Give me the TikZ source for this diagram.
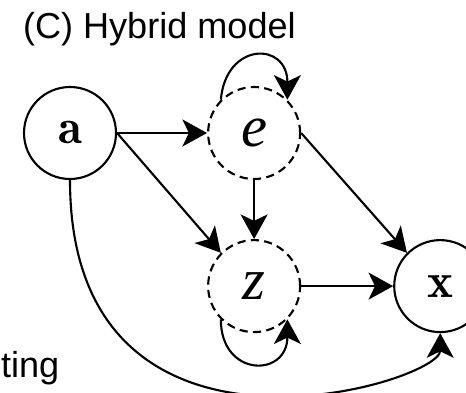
\RequirePackage{fix-cm}
\documentclass[tikz,border=0pt]{standalone}
\usepackage{fontspec}
\newfontfamily\arialfont{Liberation Sans}
\newfontfamily\timesfont{Liberation Serif}
\usetikzlibrary{positioning,arrows.meta}

\begin{document}
\begin{tikzpicture}[
  obs/.style = {
    draw,
    circle,
    minimum size = 2.76cm,
    inner sep = 0pt,
  },
  latent/.style = {
    obs,
    dash pattern = on 7pt off 4.5pt,
    font = \timesfont\itshape\fontsize{50}{50}\selectfont,
  },
  caption/.style = {
    anchor = base west,
    inner sep = 0pt,
    font = \arialfont\fontsize{30.8}{36}\selectfont,
  },
  sym/.style = {
    font = \fontsize{42}{42}\selectfont,
  },
  line width = 1.8pt,
  >={Stealth[length=21pt,width=23pt,inset=5.5pt]},
]

  \useasboundingbox (0,0) rectangle (13.98,-11.79);

  \node[caption] (title) at (0.66,-1.17) {(C) Hybrid model};
  \node[caption] (cut) at (0,-11.31) {ting};

  \node[obs,sym] (a) at (2.1,-3.99) {$\mathbf{a}$};
  \node[latent] (e) [right=2.7cm of a] {e};
  \node[latent] (z) [below=1.77cm of e] {z};
  \node[obs,sym] (x) [right=2.76cm of z] {$\mathbf{x}$};

  \path[->] (a) edge (e);
  \path[->] (a.east) edge (z.135);
  \path[->] (e) edge (z);
  \path[->] (e.east) edge (x.135);
  \path[->] (z) edge (x);

  % self loops on the latent nodes
  \path[->] (e.135) edge[out=85,in=90,distance=1.75cm] (e.45);
  \path[->] (z.225) edge[out=-90,in=-90,distance=1.75cm] (z.315);

  \path[->] (a.south) edge[out=-90,in=-90,out distance=9.45cm,in distance=1.5cm] (x.south);

\end{tikzpicture}
\end{document}
